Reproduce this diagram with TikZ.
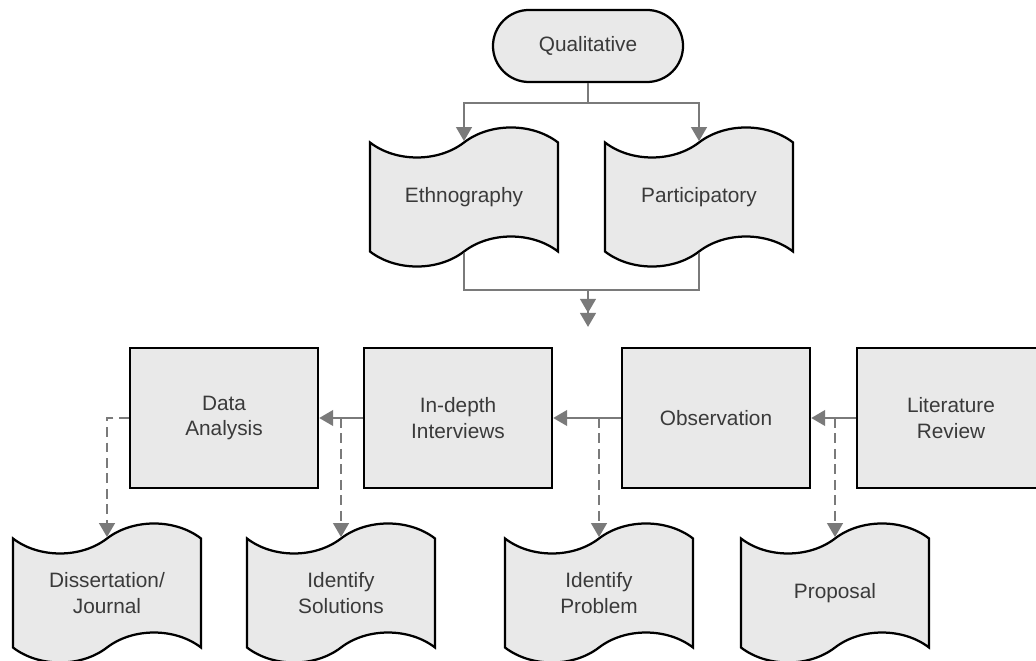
\documentclass[tikz,border=0pt]{standalone}
\usepackage{fontspec}
\setmainfont{Liberation Sans}
\usetikzlibrary{shapes.symbols,arrows.meta}
\definecolor{boxfill}{HTML}{E9E9E9}
\definecolor{linegray}{HTML}{7A7A7A}
\definecolor{textgray}{HTML}{3A3A3A}
\tikzset{
	box/.style={draw=black, line width=1.6pt, fill=boxfill, text=textgray, align=center, font=\fontsize{14.8}{18}\selectfont},
	stepbox/.style={box, rectangle, minimum width=4.7cm, minimum height=3.5cm},
	pill/.style={box, rectangle, rounded corners=0.9cm, minimum width=4.75cm, minimum height=1.8cm},
	doc/.style={box, tape, minimum width=4.7cm, minimum height=3.475cm, tape bend height=0.75cm},
	conn/.style={draw=linegray, line width=2pt, -{Triangle[length=10pt,width=11pt]}},
	plain/.style={draw=linegray, line width=2pt},
	dconn/.style={conn, dash pattern=on 7pt off 4pt},
}
\begin{document}
\begin{tikzpicture}[x=0.025cm, y=-0.025cm]
	\useasboundingbox (0,0) rectangle (1036,661);
	% top part
	\node[pill] (qual) at (588,46) {Qualitative};
	\node[doc] (eth) at (464,197) {Ethnography};
	\node[doc] (part) at (699,197) {Participatory};
	\coordinate (split) at (588,103);
	\coordinate (merge) at (588,290);
	\coordinate (join) at (588,327);
	\draw[plain] (qual.south) -- (split);
	\draw[conn] (split) -| (eth.north);
	\draw[conn] (split) -| (part.north);
	\draw[plain] (eth.south) |- (merge);
	\draw[plain] (part.south) |- (merge);
	\draw[conn, -{Triangle[length=10pt,width=11pt] Triangle[length=10pt,width=11pt]}] (merge) -- (join);
	% process row
	\node[stepbox] (da) at (224,418) {Data\\Analysis};
	\node[stepbox] (ind) at (458,418) {In-depth\\Interviews};
	\node[stepbox] (obs) at (716,418) {Observation};
	\node[stepbox] (lit) at (951,418) {Literature\\Review};
	\draw[conn] (lit) -- (obs);
	\draw[conn] (obs) -- (ind);
	\draw[conn] (ind) -- (da);
	% outputs
	\node[doc] (diss) at (107,593) {Dissertation/\\Journal};
	\node[doc] (sol) at (341,593) {Identify\\Solutions};
	\node[doc] (prob) at (599,593) {Identify\\Problem};
	\node[doc] (prop) at (835,593) {Proposal};
	\draw[dconn] (da.west) -| (diss.north);
	\draw[dconn] (sol.north |- ind.west) -- (sol.north);
	\draw[dconn] (prob.north |- obs.west) -- (prob.north);
	\draw[dconn] (prop.north |- lit.west) -- (prop.north);
\end{tikzpicture}
\end{document}
